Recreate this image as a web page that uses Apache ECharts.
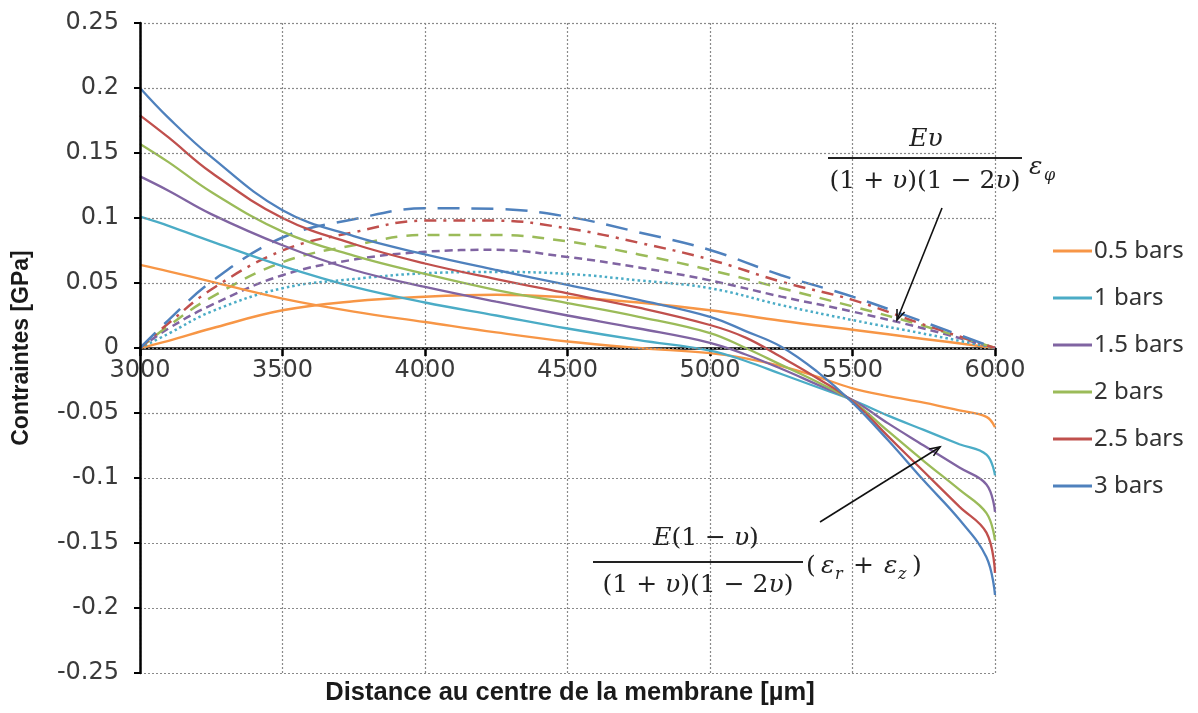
<!DOCTYPE html>
<html><head><meta charset="utf-8">
<script src="https://cdn.jsdelivr.net/npm/echarts@6/dist/echarts.min.js"></script>
<style>html,body{margin:0;padding:0;background:#fff}#c{width:1198px;height:713px}</style>
</head><body><div id="c"></div>
<script>
// ---------- data ----------
const pressures = ['0.5 bars', '1 bars', '1.5 bars', '2 bars', '2.5 bars', '3 bars'];
const xTickLabels = ['3000', '3500', '4000', '4500', '5000', '5500', '6000'];
const yTickLabels = ['-0.25', '-0.2', '-0.15', '-0.1', '-0.05', '0', '0.05', '0.1', '0.15', '0.2', '0.25'];

// radial-type stress (solid curves)
const xRadial = [3000, 3100, 3250, 3500, 3750, 4000, 4250, 4500, 4750, 5000, 5125, 5250, 5375, 5500, 5625, 5750, 5875, 5970, 6000];
const radial05 = [0.064, 0.059, 0.051, 0.038, 0.028, 0.020, 0.012, 0.005, 0.000, -0.004, -0.008, -0.014, -0.022, -0.031, -0.037, -0.042, -0.048, -0.053, -0.061];
const radial1  = [0.101, 0.094, 0.082, 0.063, 0.047, 0.035, 0.025, 0.015, 0.006, -0.002, -0.010, -0.020, -0.030, -0.040, -0.052, -0.063, -0.074, -0.082, -0.098];
const radial15 = [0.132, 0.121, 0.103, 0.079, 0.060, 0.047, 0.0356, 0.025, 0.015, 0.004, -0.005, -0.016, -0.028, -0.040, -0.058, -0.075, -0.092, -0.105, -0.126];
const radial2  = [0.157, 0.143, 0.120, 0.0895, 0.071, 0.057, 0.0446, 0.0345, 0.024, 0.0115, 0.000, -0.013, -0.026, -0.041, -0.064, -0.087, -0.109, -0.127, -0.148];
const radial25 = [0.179, 0.162, 0.135, 0.100, 0.080, 0.065, 0.053, 0.042, 0.031, 0.0177, 0.008, -0.007, -0.023, -0.041, -0.068, -0.095, -0.122, -0.142, -0.173];
const radial3  = [0.200, 0.177, 0.147, 0.106, 0.086, 0.072, 0.060, 0.0485, 0.037, 0.024, 0.013, 0.001, -0.018, -0.042, -0.071, -0.102, -0.132, -0.161, -0.190];

// hoop-type stress (dashed curves)
const xHoop = [3000, 3100, 3250, 3500, 3750, 4000, 4250, 4500, 4750, 5000, 5250, 5500, 5750, 6000];
const hoop05 = [0, 0.0055, 0.015, 0.029, 0.036, 0.0395, 0.041, 0.039, 0.035, 0.029, 0.021, 0.014, 0.007, 0];
const hoop1  = [0, 0.011, 0.028, 0.046, 0.053, 0.0575, 0.0585, 0.057, 0.052, 0.046, 0.033, 0.0215, 0.011, 0];
const hoop15 = [0, 0.015, 0.033, 0.056, 0.068, 0.074, 0.0755, 0.070, 0.062, 0.052, 0.0395, 0.028, 0.015, 0];
const hoop2  = [0, 0.017, 0.039, 0.066, 0.079, 0.087, 0.087, 0.082, 0.072, 0.060, 0.046, 0.032, 0.017, 0];
const hoop25 = [0, 0.019, 0.045, 0.075, 0.089, 0.098, 0.098, 0.092, 0.081, 0.068, 0.051, 0.037, 0.018, 0];
const hoop3  = [0, 0.0215, 0.051, 0.085, 0.099, 0.1075, 0.107, 0.101, 0.089, 0.0754, 0.056, 0.0395, 0.020, 0];

// ---------- styles ----------
const colors = ['#F79646', '#4BACC6', '#8064A2', '#9BBB59', '#C0504D', '#4F81BD'];
const hoopDash = ['solid', [2.5, 3], [8, 5], [12, 9], [12, 7, 3, 7], [22, 12]];
const radialSets = [radial05, radial1, radial15, radial2, radial25, radial3];
const hoopSets = [hoop05, hoop1, hoop15, hoop2, hoop25, hoop3];

const pair = (xs, ys) => xs.map((x, i) => [x, ys[i]]);

const series = [];
pressures.forEach((p, i) => {
  series.push({
    name: p, type: 'line', xAxisIndex: 0, data: pair(xRadial, radialSets[i]),
    showSymbol: false, smooth: 0.4,
    lineStyle: { color: colors[i], width: 2.3 }, itemStyle: { color: colors[i] },
    z: 3
  });
});
pressures.forEach((p, i) => {
  series.push({
    name: p + ' (hoop)', type: 'line', xAxisIndex: 0, data: pair(xHoop, hoopSets[i]),
    showSymbol: false, smooth: 0.4,
    lineStyle: { color: colors[i], width: 2.5, type: hoopDash[i] }, itemStyle: { color: colors[i] },
    z: 2
  });
});

const serif = '"DejaVu Serif", "Liberation Serif", serif';
const richMath = {
  n: { fontSize: 25, fontFamily: serif, fill: '#222', fontStyle: 'normal' },
  i: { fontSize: 25, fontFamily: serif, fill: '#222', fontStyle: 'italic' }
};
function rtxt(x, y, text, align) {
  return { type: 'text', x: x, y: y, z: 100,
    style: { text: text, rich: richMath, fill: '#222', fontSize: 25, fontFamily: serif,
      align: align || 'left', textAlign: align || 'left',
      verticalAlign: 'middle', textVerticalAlign: 'middle' } };
}
function txt(x, y, text, size, italic) {
  return { type: 'text', x: x, y: y, z: 100,
    style: { text: text, fill: '#222', fontSize: size, fontFamily: serif,
      fontStyle: italic ? 'italic' : 'normal', align: 'left', textAlign: 'left',
      verticalAlign: 'middle', textVerticalAlign: 'middle' } };
}
function arrow(x1, y1, x2, y2) {
  const a = Math.atan2(y2 - y1, x2 - x1), L = 11, w = 0.38;
  return [
    { type: 'line', z: 100, shape: { x1, y1, x2, y2 }, style: { stroke: '#111', lineWidth: 1.6 } },
    { type: 'polyline', z: 100, shape: { points: [
      [x2 - L * Math.cos(a - w), y2 - L * Math.sin(a - w)], [x2, y2],
      [x2 - L * Math.cos(a + w), y2 - L * Math.sin(a + w)]] },
      style: { stroke: '#111', lineWidth: 1.6, fill: null } }
  ];
}

const denom = '{n|(1 + }{i|υ}{n|)(1 − 2}{i|υ}{n|)}';
const graphics = [
  // axis titles
  { type: 'text', x: 22, y: 348, rotation: Math.PI / 2, z: 100,
    style: { text: 'Contraintes [GPa]', fill: '#1a1a1a', fontSize: 23, fontWeight: 'bold',
      fontFamily: '"Liberation Sans", Arial, sans-serif', align: 'center', textAlign: 'center',
      verticalAlign: 'middle', textVerticalAlign: 'middle' } },
  { type: 'text', x: 570, y: 693, z: 100,
    style: { text: 'Distance au centre de la membrane [µm]', fill: '#1a1a1a', fontSize: 25.5, fontWeight: 'bold',
      fontFamily: '"Liberation Sans", Arial, sans-serif', align: 'center', textAlign: 'center',
      verticalAlign: 'middle', textVerticalAlign: 'middle' } },
  // formula 1 : Eυ / ((1+υ)(1−2υ)) εφ
  rtxt(926, 139, '{i|Eυ}', 'center'),
  { type: 'line', z: 100, shape: { x1: 828, y1: 158, x2: 1022, y2: 158 }, style: { stroke: '#222', lineWidth: 2 } },
  rtxt(925, 181, denom, 'center'),
  txt(1029, 167, 'ε', 25, true),
  txt(1044, 176, 'φ', 16, true),
  // formula 2 : E(1−υ) / ((1+υ)(1−2υ)) (εr + εz)
  rtxt(706, 538, '{i|E}{n|(1 − }{i|υ}{n|)}', 'center'),
  { type: 'line', z: 100, shape: { x1: 593, y1: 562, x2: 803, y2: 562 }, style: { stroke: '#222', lineWidth: 2 } },
  rtxt(698, 585, denom, 'center'),
  txt(806, 566, '(', 25, false),
  txt(821, 566, 'ε', 25, true),
  txt(835, 575, 'r', 16, true),
  txt(853, 566, '+', 25, false),
  txt(884, 566, 'ε', 25, true),
  txt(898, 575, 'z', 16, true),
  txt(912, 566, ')', 25, false)
].concat(arrow(942, 208, 897, 320), arrow(820, 522, 940, 447));

const labelFont = '"DejaVu Sans", Verdana, sans-serif';
const gridLine = { show: true, lineStyle: { color: '#8a8a8a', width: 1.2, type: [2, 2] } };

const chart = echarts.init(document.getElementById('c'), null, { renderer: 'canvas' });
chart.setOption({
  animation: false,
  backgroundColor: '#fff',
  grid: { left: 140, right: 203, top: 23, bottom: 40 },
  legend: {
    orient: 'vertical', left: 1053, top: 239, itemGap: 23, padding: 0,
    itemWidth: 39, itemHeight: 3, icon: 'rect',
    data: pressures,
    textStyle: { fontSize: 24, color: '#333', fontFamily: '"Noto Sans", "Open Sans", sans-serif', padding: [0, 0, 0, -3] }
  },
  xAxis: [{
    // main axis: line + ticks sit on y = 0
    type: 'value', min: 3000, max: 6000, interval: 500,
    axisLine: { show: true, onZero: true, lineStyle: { color: '#000', width: 2.5 } },
    axisTick: { show: true, inside: false, length: 8, lineStyle: { color: '#000', width: 2.5 } },
    axisLabel: { show: true, color: 'rgba(0,0,0,0)', fontSize: 1 },
    splitLine: gridLine
  }, {
    // label-only twin, shifted up to the zero line
    type: 'value', min: 3000, max: 6000, interval: 500,
    position: 'bottom', offset: -325,
    axisLine: { show: false, onZero: false }, axisTick: { show: false }, splitLine: { show: false },
    axisLabel: { margin: 11, fontSize: 24, color: '#3a3a3a', fontFamily: labelFont,
      formatter: v => xTickLabels[Math.round((v - 3000) / 500)] }
  }],
  yAxis: {
    type: 'value', min: -0.25, max: 0.25, interval: 0.05, z: 4,
    axisLine: { show: true, onZero: false, lineStyle: { color: '#000', width: 2.5 } },
    axisTick: { show: true, length: 6, lineStyle: { color: '#000', width: 2 } },
    axisLabel: { margin: 21, fontSize: 24, color: '#3a3a3a', fontFamily: labelFont,
      formatter: v => yTickLabels[Math.round((v + 0.25) / 0.05)] },
    splitLine: gridLine
  },
  series: series,
  graphic: graphics
});
</script></body></html>
